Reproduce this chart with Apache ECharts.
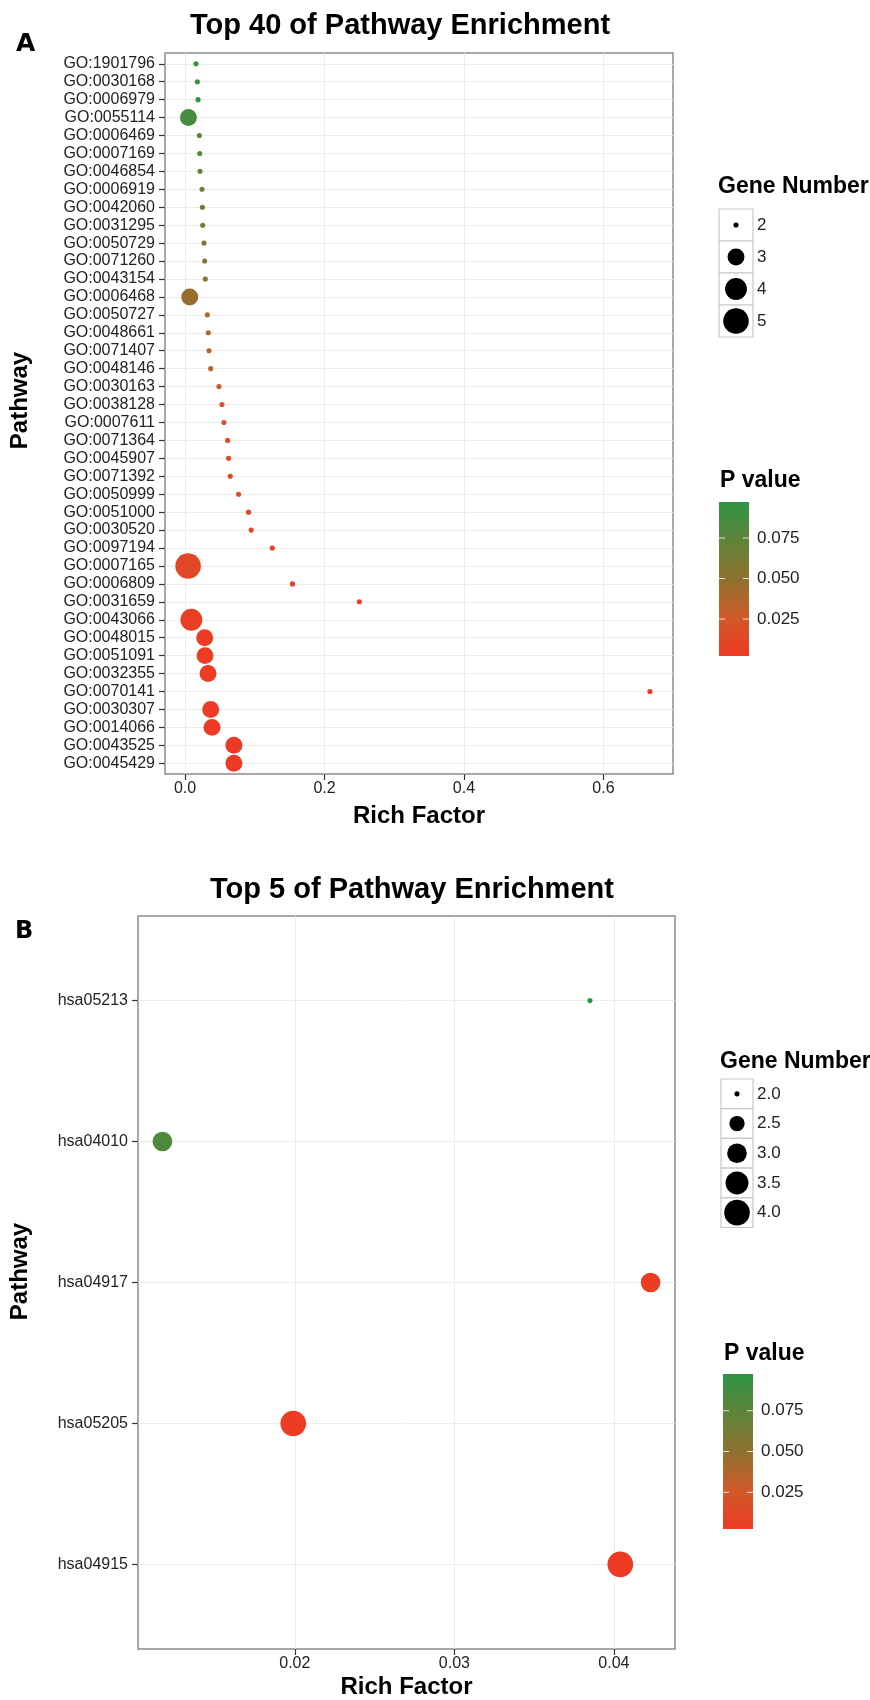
<!DOCTYPE html>
<html>
<head>
<meta charset="utf-8">
<script src="https://cdn.jsdelivr.net/npm/echarts@6/dist/echarts.min.js"></script>
<style>
  html, body { margin: 0; padding: 0; background: #fff; }
  #chart { width: 870px; height: 1700px; }
</style>
</head>
<body>
<div id="chart"></div>
<script>
// Panel A - top 40 GO terms, listed top to bottom
const termsA = ['GO:1901796', 'GO:0030168', 'GO:0006979', 'GO:0055114', 'GO:0006469', 'GO:0007169',
  'GO:0046854', 'GO:0006919', 'GO:0042060', 'GO:0031295', 'GO:0050729', 'GO:0071260', 'GO:0043154',
  'GO:0006468', 'GO:0050727', 'GO:0048661', 'GO:0071407', 'GO:0048146', 'GO:0030163', 'GO:0038128',
  'GO:0007611', 'GO:0071364', 'GO:0045907', 'GO:0071392', 'GO:0050999', 'GO:0051000', 'GO:0030520',
  'GO:0097194', 'GO:0007165', 'GO:0006809', 'GO:0031659', 'GO:0043066', 'GO:0048015', 'GO:0051091',
  'GO:0032355', 'GO:0070141', 'GO:0030307', 'GO:0014066', 'GO:0043525', 'GO:0045429']
const richA = [0.0157, 0.0176, 0.0186, 0.0048, 0.0205, 0.0210, 0.0214, 0.0243, 0.0248, 0.0252,
  0.0271, 0.0281, 0.0290, 0.0067, 0.0319, 0.0333, 0.0343, 0.0367, 0.0486, 0.0529,
  0.0557, 0.0610, 0.0624, 0.0648, 0.0767, 0.0910, 0.0948, 0.1250, 0.0043, 0.1540,
  0.2500, 0.0090, 0.0281, 0.0286, 0.0329, 0.6667, 0.0367, 0.0386, 0.0700, 0.0700]
const pA = [0.0972, 0.0955, 0.0940, 0.0850, 0.0760, 0.0740, 0.0720, 0.0620, 0.0600, 0.0580,
  0.0540, 0.0520, 0.0500, 0.0460, 0.0400, 0.0380, 0.0360, 0.0330, 0.0240, 0.0220,
  0.0200, 0.0170, 0.0160, 0.0150, 0.0130, 0.0110, 0.0100, 0.0070, 0.0120, 0.0050,
  0.0040, 0.0060, 0.0035, 0.0035, 0.0030, 0.0028, 0.0028, 0.0026, 0.0024, 0.0022]
const genesA = [2, 2, 2, 3, 2, 2, 2, 2, 2, 2, 2, 2, 2, 3, 2, 2, 2, 2, 2, 2,
  2, 2, 2, 2, 2, 2, 2, 2, 5, 2, 2, 4, 3, 3, 3, 2, 3, 3, 3, 3]
const xTicksA = ['0.0', '0.2', '0.4', '0.6']
const geneBreaksA = [2, 3, 4, 5]

// Panel B - top 5 KEGG pathways
const termsB = ['hsa05213', 'hsa04010', 'hsa04917', 'hsa05205', 'hsa04915']
const richB = [0.0385, 0.0117, 0.0423, 0.0199, 0.0404]
const pB = [0.0975, 0.0820, 0.0040, 0.0030, 0.0025]
const genesB = [2, 3, 3, 4, 4]
const xTicksB = ['0.02', '0.03', '0.04']
const geneBreaksB = [2.0, 2.5, 3.0, 3.5, 4.0]

const pBreaks = ['0.025', '0.050', '0.075']

const FONT = '"Liberation Sans", Arial, sans-serif'
const pColors = ['#ee3a24', '#cf5a28', '#8f712f', '#5f843a', '#2f9444']

// ggplot-like area scale, size range 1..6
function dotSize (n, lo, hi) {
  const s = 1 + 5 * Math.sqrt((n - lo) / (hi - lo))
  return 4.1 * s + 1
}

function panel (idx, cfg) {
  const { terms, rich, p, genes, ticks, grid } = cfg
  const lo = Math.min(...rich)
  const hi = Math.max(...rich)
  const pad = (hi - lo) * 0.05
  const tickVals = ticks.map(Number)
  const idxVals = terms.map((t, i) => i)
  const gLo = Math.min(...genes)
  const gHi = Math.max(...genes)
  return {
    grid: Object.assign({ show: true, borderColor: '#8c8c8c', borderWidth: 1.5, backgroundColor: '#fff' }, grid),
    xAxis: {
      type: 'value',
      gridIndex: idx,
      position: 'bottom',
      min: lo - pad,
      max: hi + pad,
      name: 'Rich Factor',
      nameLocation: 'middle',
      nameGap: cfg.xNameGap,
      nameTextStyle: { fontFamily: FONT, fontSize: 24, fontWeight: 'bold', color: '#000' },
      axisLine: { show: false, onZero: false },
      axisTick: { show: true, length: 6, customValues: tickVals, lineStyle: { color: '#333', width: 1.2 } },
      axisLabel: {
        customValues: tickVals,
        formatter: v => ticks[tickVals.findIndex(t => Math.abs(t - v) < 1e-9)],
        margin: 7,
        fontFamily: FONT,
        fontSize: 16,
        color: '#222'
      },
      splitLine: { show: true, lineStyle: { color: '#ececec', width: 1 } }
    },
    yAxis: {
      type: 'value',
      gridIndex: idx,
      position: 'left',
      inverse: true,
      min: -0.6,
      max: terms.length - 0.4,
      name: 'Pathway',
      nameLocation: 'middle',
      nameGap: cfg.yNameGap,
      nameRotate: 90,
      nameTextStyle: { fontFamily: FONT, fontSize: 24, fontWeight: 'bold', color: '#000', padding: [0, 0, 0, cfg.yNameShift] },
      axisLine: { show: false, onZero: false },
      axisTick: { show: true, length: 6, customValues: idxVals, lineStyle: { color: '#333', width: 1.2 } },
      axisLabel: {
        customValues: idxVals,
        formatter: v => terms[Math.round(v)],
        margin: 10,
        fontFamily: FONT,
        fontSize: 16,
        color: '#222'
      },
      splitLine: { show: true, lineStyle: { color: '#ececec', width: 1 } }
    },
    series: {
      type: 'scatter',
      xAxisIndex: idx,
      yAxisIndex: idx,
      data: terms.map((t, i) => [rich[i], i, p[i], genes[i]]),
      symbolSize: d => dotSize(d[3], gLo, gHi),
      itemStyle: { opacity: 1 }
    },
    visualMap: {
      type: 'continuous',
      show: false,
      seriesIndex: idx,
      dimension: 2,
      min: Math.min(...p),
      max: Math.max(...p),
      inRange: { color: pColors }
    }
  }
}

function legends (cfg) {
  const { genes, p, breaks, breakDigits, size, bar } = cfg
  const gLo = Math.min(...genes)
  const gHi = Math.max(...genes)
  const els = []
  els.push({ type: 'text', x: size.x - 1, y: size.titleY, style: { text: 'Gene Number', font: 'bold 23px ' + FONT, fill: '#000', verticalAlign: 'top' } })
  breaks.forEach((b, i) => {
    const y = size.y + i * size.h
    els.push({ type: 'rect', shape: { x: size.x, y: y, width: size.w, height: size.h }, style: { fill: '#fff', stroke: '#c8c8c8', lineWidth: 1.2 } })
    els.push({ type: 'circle', shape: { cx: size.x + size.w / 2, cy: y + size.h / 2, r: dotSize(b, gLo, gHi) / 2 }, style: { fill: '#000' } })
    els.push({ type: 'text', x: size.x + size.w + 4, y: y + size.h / 2, style: { text: b.toFixed(breakDigits), font: '17px ' + FONT, fill: '#222', verticalAlign: 'middle' } })
  })

  const pLo = Math.min(...p)
  const pHi = Math.max(...p)
  els.push({ type: 'text', x: bar.x + 1, y: bar.titleY, style: { text: 'P value', font: 'bold 23px ' + FONT, fill: '#000', verticalAlign: 'top' } })
  els.push({
    type: 'rect',
    shape: { x: bar.x, y: bar.y, width: bar.w, height: bar.h },
    style: {
      fill: new echarts.graphic.LinearGradient(0, 1, 0, 0, pColors.map((c, i) => ({ offset: i / (pColors.length - 1), color: c })))
    }
  })
  pBreaks.forEach(lbl => {
    const y = bar.y + bar.h - (Number(lbl) - pLo) / (pHi - pLo) * bar.h
    els.push({ type: 'line', shape: { x1: bar.x, y1: y, x2: bar.x + 6, y2: y }, style: { stroke: 'rgba(255,255,255,0.8)', lineWidth: 1 } })
    els.push({ type: 'line', shape: { x1: bar.x + bar.w - 6, y1: y, x2: bar.x + bar.w, y2: y }, style: { stroke: 'rgba(255,255,255,0.8)', lineWidth: 1 } })
    els.push({ type: 'text', x: bar.x + bar.w + 8, y: y, style: { text: lbl, font: '17px ' + FONT, fill: '#222', verticalAlign: 'middle' } })
  })
  return els
}

const A = panel(0, {
  terms: termsA, rich: richA, p: pA, genes: genesA, ticks: xTicksA,
  grid: { left: 161, top: 53, width: 512, height: 721 },
  xNameGap: 30, yNameGap: 133, yNameShift: 26
})
const B = panel(1, {
  terms: termsB, rich: richB, p: pB, genes: genesB, ticks: xTicksB,
  grid: { left: 132, top: 916, width: 543, height: 735 },
  xNameGap: 26, yNameGap: 106, yNameShift: 22
})

const graphics = [
  { type: 'text', x: 16, y: 32, style: { text: 'A', font: 'bold 25px "DejaVu Sans", ' + FONT, fill: '#000', verticalAlign: 'top' } },
  { type: 'text', x: 15, y: 920, style: { text: 'B', font: 'bold 24px "DejaVu Sans", ' + FONT, fill: '#000', verticalAlign: 'top' } }
].concat(
  legends({
    genes: genesA, p: pA, breaks: geneBreaksA, breakDigits: 0,
    size: { x: 719, y: 209, w: 34, h: 32, titleY: 175 },
    bar: { x: 719, y: 502, w: 30, h: 154, titleY: 469 }
  }),
  legends({
    genes: genesB, p: pB, breaks: geneBreaksB, breakDigits: 1,
    size: { x: 721, y: 1079, w: 32, h: 29.7, titleY: 1050 },
    bar: { x: 723, y: 1374, w: 30, h: 155, titleY: 1342 }
  })
)

const chart = echarts.init(document.getElementById('chart'))
chart.setOption({
  animation: false,
  backgroundColor: '#fff',
  title: [
    { text: 'Top 40 of Pathway Enrichment', left: 190, top: 11, padding: 0, textStyle: { fontFamily: FONT, fontSize: 29, fontWeight: 'bold', color: '#000' } },
    { text: 'Top 5 of Pathway Enrichment', left: 210, top: 875, padding: 0, textStyle: { fontFamily: FONT, fontSize: 29, fontWeight: 'bold', color: '#000' } }
  ],
  grid: [A.grid, B.grid],
  xAxis: [A.xAxis, B.xAxis],
  yAxis: [A.yAxis, B.yAxis],
  visualMap: [A.visualMap, B.visualMap],
  series: [A.series, B.series],
  graphic: graphics
})
</script>
</body>
</html>
